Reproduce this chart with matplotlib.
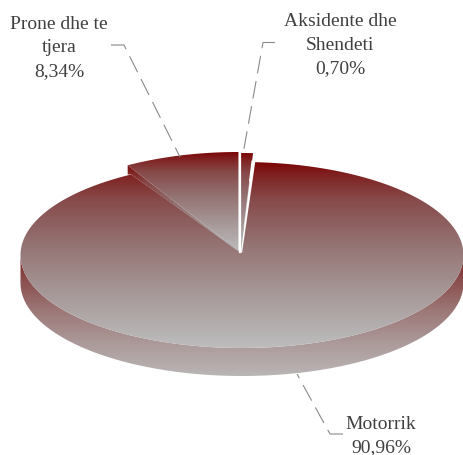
#3D pie with vertical gradients
import numpy as np
import matplotlib
matplotlib.use('Agg')
import matplotlib.pyplot as plt
from matplotlib.colors import LinearSegmentedColormap
from matplotlib.patches import Polygon

labels = ['Motorrik', 'Prone dhe te\ntjera', 'Aksidente dhe\nShendeti']
values = [90.96, 8.34, 0.70]
value_text = ['90,96%', '8,34%', '0,70%']

#-----------------------------
# geometry, in image pixels
#-----------------------------
W, H = 464, 456
CX, CY, RX, RY = 242, 256, 221.5, 93
DEPTH = 28
TOP_RY = 99

top_cmap = LinearSegmentedColormap.from_list('top', [
    (0, '#7c0606'), (0.07, '#802222'), (0.2, '#874a4a'), (0.45, '#957474'),
    (0.7, '#a69797'), (1, '#bdbdbd')])
wall_cmap = LinearSegmentedColormap.from_list('wall', [
    (0, '#7c2020'), (0.2, '#8a4c4c'), (0.45, '#9c7676'), (0.75, '#ad9c9c'), (1, '#bab5b5')])

fig = plt.figure(figsize=(W / 100, H / 100), dpi=100)
ax = fig.add_axes([0, 0, 1, 1])
ax.set_xlim(0, W)
ax.set_ylim(H, 0)
ax.axis('off')


def arc(cx, cy, rx, ry, t0, t1, n=200):
    t = np.radians(np.linspace(t0, t1, n))
    return np.column_stack([cx + rx * np.sin(t), cy - ry * np.cos(t)])


def grad_fill(pts, cmap, y0, y1, z=1):
    # gradient image clipped to a polygon
    poly = Polygon(pts, closed=True, transform=ax.transData, fc='none', ec='none')
    ax.add_patch(poly)
    g = np.linspace(0, 1, 256).reshape(-1, 1)
    im = ax.imshow(g, cmap=cmap, extent=(0, W, y1, y0), aspect='auto', zorder=z)
    im.set_clip_path(poly)


total = sum(values)
a_end = values[2] / total * 360
p_start = -values[1] / total * 360

# outer wall
low = arc(CX, CY, RX, RY, 90, 270)
wall = np.vstack([low, (low + [0, DEPTH])[::-1]])
grad_fill(wall, wall_cmap, CY, CY + RY + DEPTH, 1)

# main slice
main_arc = arc(CX, CY, RX, RY, a_end + 0.9, 360 + p_start)
grad_fill(np.vstack([[CX, CY - 2], main_arc]), top_cmap, CY - RY, CY + RY, 2)

# cut wall under the prone slice
pc = (CX - 3.5, CY - 4)
pa = arc(pc[0], pc[1], RX, TOP_RY, p_start, 0)
m0 = arc(CX, CY, RX, RY, p_start, p_start, 1)[0]
grad_fill(np.array([pa[0], [pa[0][0], m0[1]], m0, [CX, CY - 1], pc]), top_cmap, pa[0][1], CY + 5, 3)

# prone slice
grad_fill(np.vstack([pc, pa]), top_cmap, CY - TOP_RY - 4, CY - 2, 4)

# aksidente slice
ac = (CX - 1, CY - 3)
aa = arc(ac[0], ac[1], RX, TOP_RY, 0, a_end + 0.6)
grad_fill(np.vstack([ac, aa]), top_cmap, CY - TOP_RY - 3, CY - 2, 4)
ax.plot([ac[0] - 0.8, ac[0] - 0.8], [aa[0][1], ac[1]], color='white', lw=1.6, zorder=5)
# thin light edge on the right side of the slice
ex, ey = aa[-1]
f = np.array([0.08, 0.28, 0.75])
ax.plot(ex + (ac[0] - ex) * f[:2], ey + (ac[1] - ey) * f[:2], color='white', lw=0.9, zorder=5)
ax.plot(ex + (ac[0] - ex) * f[1:], ey + (ac[1] - ey) * f[1:], color='white', lw=0.7, alpha=0.4, zorder=5)

# leader lines, dash pattern starts at the label end
leaders = [
    ([343, 330, 297], [435, 435, 375]),
    ([111, 124, 180], [46, 46, 158]),
    ([275, 263, 243], [43.5, 43.5, 155]),
]
for xs, ys in leaders:
    ax.plot(xs, ys, color='#8a8a8a', lw=0.8, ls=(0, (16, 7)), zorder=6)

# labels
font = dict(family='Liberation Serif', fontsize=14, color='#404040', ha='center', va='center', linespacing=1.5)
pos = [(381, 436), (59, 48), (340, 45.5)]
for lab, val, (x, y) in zip(labels, value_text, pos):
    ax.text(x, y, lab + '\n' + val, **font)

fig.savefig('out.png', dpi=100)
